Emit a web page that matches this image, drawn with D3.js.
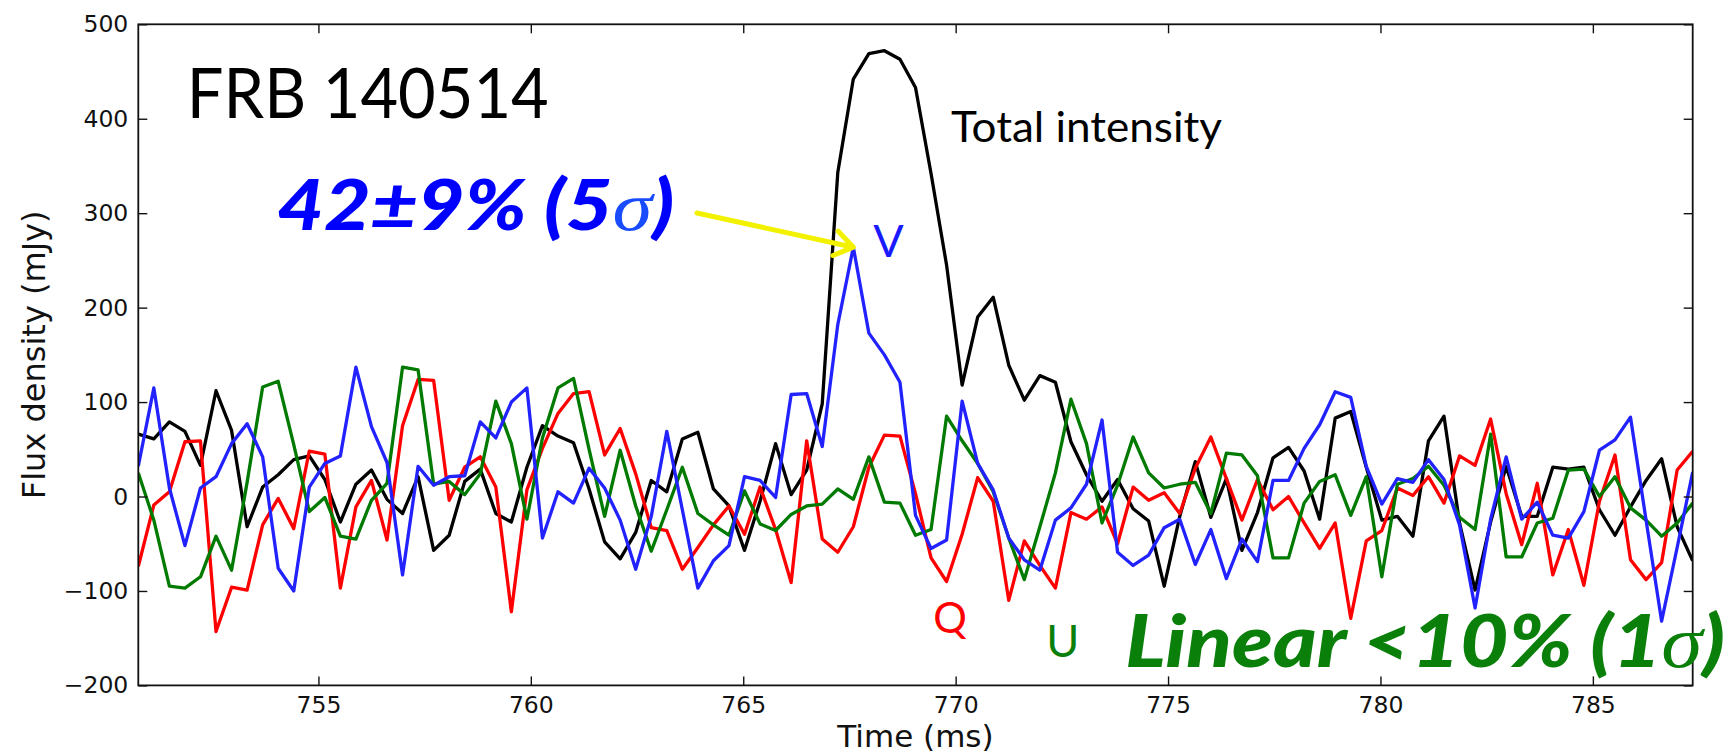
<!DOCTYPE html>
<html>
<head>
<meta charset="utf-8">
<script src="https://cdn.jsdelivr.net/npm/d3@7"></script>
<style>
  html, body { margin: 0; padding: 0; background: #fff; }
  svg { display: block; }
  .axis .tick text { font-family: 'DejaVu Sans', sans-serif; font-size: 23.5px; fill: #111; }
  .axis .tick line { stroke: #111; stroke-width: 1.4px; }
  .axis-title { font-family: 'DejaVu Sans', sans-serif; font-size: 31px; fill: #111; }
  .note { font-family: Lato, 'Open Sans', sans-serif; }
</style>
</head>
<body>
<div id="chart"></div>
<script>
const WIDTH = 1731
const HEIGHT = 755
const MARGIN = { top: 24.3, right: 38.3, bottom: 69.6, left: 138.3 }

// sampling of the profiles
const T_START = 750.76   // ms, first sample (left edge of the axes)
const T_STEP = 0.3659    // ms per sample

// total intensity (mJy)
const intensity = [
  66, 61, 79, 69, 33, 112, 70, -32, 10, 23,
  39, 43, 18, -27, 13, 28, -3, -18, 21, -57,
  -41, 16, 29, -18, -27, 31, 75, 64, 57, 8,
  -48, -66, -38, 17, 5, 61, 68, 8, -10, -57,
  -5, 56, 2, 28, 98, 343, 442, 469, 472, 463,
  433, 342, 245, 118, 190, 211, 139, 102, 128, 121,
  58, 23, -5, 18, -13, -26, -95, -21, 37, -22,
  19, -57, -17, 41, 52, 27, -24, 83, 90, 31,
  -25, -21, -42, 59, 85, -28, -99, -27, 32, -21,
  -21, 31, 29, 31, -14, -41, -11, 17, 40, -32,
  -68
]

// Stokes Q
const stokesQ = [
  -74, -9, 5, 58, 59, -143, -96, -99, -30, -2,
  -34, 48, 45, -97, -11, 17, -46, 75, 124, 123,
  -4, 31, 42, 10, -122, 7, 51, 88, 109, 111,
  44, 72, 24, -33, -36, -77, -54, -30, -10, -40,
  10, -35, -91, 59, -45, -59, -32, 31, 65, 64,
  3, -65, -90, -40, 20, -5, -110, -47, -73, -97,
  -17, -24, -11, -50, 10, -4, 4, -18, 30, 63,
  19, -25, 18, -14, 0, -28, -55, -28, -129, -47,
  -36, 9, 1, 21, -7, 43, 33, 82, 3, -51,
  14, -83, -35, -94, -5, 44, -67, -88, -70, 28,
  48
]

// Stokes U
const stokesU = [
  25, -25, -95, -97, -85, -42, -78, 15, 116, 122,
  55, -16, -1, -42, -45, -4, 14, 137, 134, 13,
  16, 2, 24, 101, 56, -24, 62, 115, 125, 50,
  -21, 49, -10, -58, -14, 31, -18, -30, -41, 6,
  -29, -36, -19, -10, -8, 8, -3, 42, -6, -7,
  -41, -35, 85, 59, 35, 5, -44, -88, -32, 25,
  103, 56, -28, 12, 63, 25, 9, 13, 15, -18,
  46, 44, 22, -65, -65, -7, 16, 23, -20, 21,
  -85, 13, 19, 32, 12, -22, -35, 66, -64, -64,
  -28, -23, 28, 29, 0, 21, -12, -25, -42, -28,
  -7
]

// Stokes V
const stokesV = [
  32, 115, 9, -52, 9, 21, 56, 77, 42, -76,
  -100, 10, 35, 43, 137, 74, 36, -83, 32, 12,
  21, 22, 79, 62, 100, 115, -44, 5, -7, 30,
  9, -25, -77, -21, 69, -14, -97, -68, -52, 21,
  17, -1, 108, 109, 53, 182, 264, 173, 150, 121,
  -20, -55, -46, 101, 35, 7, -44, -67, -78, -25,
  -12, 13, 81, -59, -73, -62, -33, -24, -72, -35,
  -87, -45, -69, 17, 17, 51, 76, 111, 105, 32,
  -8, 19, 15, 39, 18, -30, -118, -24, 42, -24,
  -6, -41, -44, -16, 49, 60, 84, -25, -132, -54,
  26
]

const Y_DOMAIN = [-200, 500]
const Y_TICKS = [-200, -100, 0, 100, 200, 300, 400, 500]
const X_TICKS = [755, 760, 765, 770, 775, 780, 785]

const X_LABEL = 'Time (ms)'
const Y_LABEL = 'Flux density (mJy)'

// drawing order: I, Q, U, V (V ends up on top)
const series = [
  { name: 'I', values: intensity, color: '#000000' },
  { name: 'Q', values: stokesQ, color: '#ff0000' },
  { name: 'U', values: stokesU, color: '#007a00' },
  { name: 'V', values: stokesV, color: '#2222ff' }
]

const TICK = 9

let svg = d3.select('#chart')
  .append('svg')
    .attr('width', WIDTH)
    .attr('height', HEIGHT)

let innerW = WIDTH - MARGIN.left - MARGIN.right
let innerH = HEIGHT - MARGIN.top - MARGIN.bottom

let x = d3.scaleLinear()
  .domain([T_START, T_START + (intensity.length - 1) * T_STEP])
  .range([MARGIN.left, MARGIN.left + innerW])

let y = d3.scaleLinear()
  .domain(Y_DOMAIN)
  .range([MARGIN.top + innerH, MARGIN.top])

let time = (i) => T_START + i * T_STEP

// profiles

let line = d3.line()
  .x((d, i) => x(time(i)))
  .y((d) => y(d))

svg.append('defs').append('clipPath')
    .attr('id', 'plot-clip')
  .append('rect')
    .attr('x', MARGIN.left)
    .attr('y', MARGIN.top)
    .attr('width', innerW)
    .attr('height', innerH)

svg.append('g')
    .attr('class', 'profiles')
    .attr('clip-path', 'url(#plot-clip)')
  .selectAll('path')
    .data(series)
  .enter().append('path')
    .attr('d', (d) => line(d.values))
    .attr('fill', 'none')
    .attr('stroke', (d) => d.color)
    .attr('stroke-width', 3.3)
    .attr('stroke-linejoin', 'round')

// axes (matplotlib classic: ticks inward on all four sides)

svg.append('g')
    .attr('class', 'axis')
    .attr('transform', 'translate(0,' + (MARGIN.top + innerH) + ')')
    .call(d3.axisBottom(x).tickValues(X_TICKS).tickSizeInner(-TICK).tickSizeOuter(0).tickPadding(11).tickFormat(d3.format('d')))

svg.append('g')
    .attr('class', 'axis')
    .attr('transform', 'translate(0,' + MARGIN.top + ')')
    .call(d3.axisTop(x).tickValues(X_TICKS).tickSizeInner(-TICK).tickSizeOuter(0).tickFormat(''))

svg.append('g')
    .attr('class', 'axis')
    .attr('transform', 'translate(' + MARGIN.left + ',0)')
    .call(d3.axisLeft(y).tickValues(Y_TICKS).tickSizeInner(-TICK).tickSizeOuter(0).tickPadding(10).tickFormat(d3.format('d')))

svg.append('g')
    .attr('class', 'axis')
    .attr('transform', 'translate(' + (MARGIN.left + innerW) + ',0)')
    .call(d3.axisRight(y).tickValues(Y_TICKS).tickSizeInner(-TICK).tickSizeOuter(0).tickFormat(''))

svg.selectAll('.axis .domain').remove()

svg.append('rect')
  .attr('x', MARGIN.left)
  .attr('y', MARGIN.top)
  .attr('width', innerW)
  .attr('height', innerH)
  .attr('fill', 'none')
  .attr('stroke', '#111')
  .attr('stroke-width', 1.8)

svg.append('text')
  .attr('class', 'axis-title')
  .attr('x', MARGIN.left + innerW / 2)
  .attr('y', 747)
  .attr('text-anchor', 'middle')
  .text(X_LABEL)

svg.append('text')
  .attr('class', 'axis-title')
  .style('font-size', '32px')
  .attr('transform', 'translate(45,' + (MARGIN.top + innerH / 2) + ') rotate(-90)')
  .attr('text-anchor', 'middle')
  .text(Y_LABEL)

// slide annotations, positioned in data coordinates

function note(t, v, size, color, opts = {}) {
  let el = svg.append('text')
    .attr('class', 'note')
    .attr('x', x(t))
    .attr('y', y(v))
    .attr('fill', color)
    .style('font-size', size + 'px')
    .style('font-weight', opts.weight || 400)
    .style('font-style', opts.italic ? 'italic' : 'normal')
  if (opts.length) {
    el.attr('textLength', opts.length).attr('lengthAdjust', 'spacingAndGlyphs')
  }
  return el
}

note(751.9, 401, 70, '#000', { length: 362 }).text('FRB 140514')
note(769.89, 375.3, 42, '#000', { length: 271 }).text('Total intensity')

let pol = note(754.03, 282.2, 70, '#0000ff', { weight: 900, italic: true, length: 397 })
pol.append('tspan').text('42±9% (5')
pol.append('tspan')
  .style('font-family', "'Liberation Serif', 'DejaVu Serif', serif")
  .style('font-weight', 400)
  .attr('fill', '#1a4cff')
  .text('σ')
pol.append('tspan').text(')')

let lin = note(773.99, -180.5, 73, '#0a800a', { weight: 900, italic: true, length: 600 })
lin.append('tspan').text('Linear <10% (1')
lin.append('tspan')
  .style('font-family', "'Liberation Serif', 'DejaVu Serif', serif")
  .style('font-weight', 400)
  .text('σ')
lin.append('tspan').text(')')

note(768.06, 253.6, 45, '#1a1aff').text('V')
note(769.47, -144.5, 42, '#ff0000').text('Q')
note(772.13, -170, 45, '#0a800a').text('U')

// yellow arrow to the V peak

let peak = d3.maxIndex(stokesV)
let tail = [x(763.91), y(300.2)]
let tip = [x(time(peak)), y(stokesV[peak])]
let ang = Math.atan2(tip[1] - tail[1], tip[0] - tail[0])
let barb = 22, spread = 0.6
let b1 = [tip[0] - barb * Math.cos(ang - spread), tip[1] - barb * Math.sin(ang - spread)]
let b2 = [tip[0] - barb * Math.cos(ang + spread), tip[1] - barb * Math.sin(ang + spread)]

svg.append('path')
  .attr('d', 'M' + tail + 'L' + tip + 'M' + b1 + 'L' + tip + 'L' + b2)
  .attr('fill', 'none')
  .attr('stroke', '#f2f200')
  .attr('stroke-width', 5)
  .attr('stroke-linecap', 'round')
  .attr('stroke-linejoin', 'round')
</script>
</body>
</html>
